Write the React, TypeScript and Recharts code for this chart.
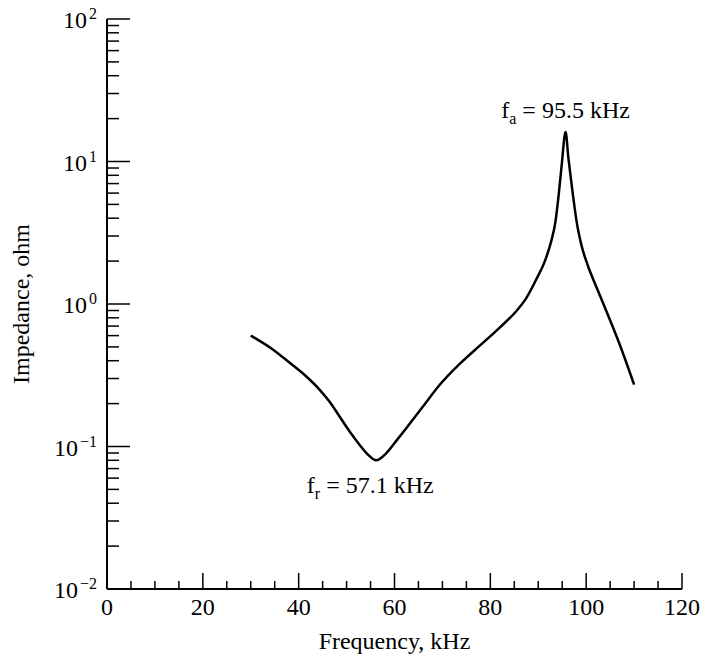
import React from 'react'
import { LineChart, Line, XAxis, YAxis, ReferenceDot } from 'recharts'

// impedance curve of the transducer (kHz, ohm)
const freqKHz = [
  30, 34.6, 38, 41.6, 44.4, 46.5, 48.5, 50.6, 52.7, 54.4, 56.2, 58.3, 60.4, 62.5,
  65.9, 69.4, 73.6, 77.8, 81.9, 85.4, 87.5, 89.6, 91.5, 92.7, 93.6, 94.3, 94.9, 95.7,
  96.3, 96.9, 97.4, 98, 99, 100.4, 102, 103.5, 107, 110,
]
const impedanceOhm = [
  0.6, 0.48, 0.39, 0.31, 0.25, 0.205, 0.163, 0.128, 0.103, 0.088, 0.08, 0.09, 0.11, 0.135,
  0.19, 0.27, 0.38, 0.51, 0.68, 0.89, 1.1, 1.49, 2.05, 2.75, 3.8, 6.0, 9.5, 16.1,
  10.5, 7.2, 5.3, 3.8, 2.6, 1.84, 1.35, 1.02, 0.52, 0.272,
]

const xTicks = [0, 5, 10, 15, 20, 25, 30, 35, 40, 45, 50, 55, 60, 65, 70, 75, 80, 85, 90, 95, 100, 105, 110, 115, 120]
const xMajorTicks = [0, 20, 40, 60, 80, 100, 120]
const xMajorLabels = ['0', '20', '40', '60', '80', '100', '120']

const yTicks = [
  0.01, 0.02, 0.03, 0.04, 0.05, 0.06, 0.07, 0.08, 0.09,
  0.1, 0.2, 0.3, 0.4, 0.5, 0.6, 0.7, 0.8, 0.9,
  1, 2, 3, 4, 5, 6, 7, 8, 9,
  10, 20, 30, 40, 50, 60, 70, 80, 90,
  100,
]
const yDecades = [0.01, 0.1, 1, 10, 100]
const yDecadeExponents = ['\u22122', '\u22121', '0', '1', '2']

// resonance (minimum) and anti-resonance (peak) annotations
const noteFreqs = [56.2, 95.7]
const noteValues = [0.08, 16.1]
const noteSubs = ['r', 'a']
const noteTexts = [' = 57.1 kHz', ' = 95.5 kHz']

const data = freqKHz.map((f, i) => ({ f, z: impedanceOhm[i] }))

const FONT = '"Liberation Serif", "Times New Roman", serif'

function FreqTick({ x, y, payload }: any) {
  const idx = xMajorTicks.indexOf(payload.value)
  const major = idx >= 0
  return (
    <g>
      <line x1={x} y1={y} x2={x} y2={y - (major ? 16 : 8)} stroke="#000" strokeWidth={1.5} />
      {major && (
        <text x={x} y={y + 26} textAnchor="middle" fontFamily={FONT} fontSize={24} fill="#000">
          {xMajorLabels[idx]}
        </text>
      )}
    </g>
  )
}

function ImpedanceTick({ x, y, payload }: any) {
  const idx = yDecades.indexOf(payload.value)
  const major = idx >= 0
  return (
    <g>
      <line x1={x} y1={y} x2={x + (major ? 23 : 12)} y2={y} stroke="#000" strokeWidth={1.5} />
      {major && (
        <text x={x - 10} y={y + 9} textAnchor="end" fontFamily={FONT} fontSize={24} fill="#000">
          10
          <tspan dy={-9} dx={2} fontSize={16}>
            {yDecadeExponents[idx]}
          </tspan>
        </text>
      )}
    </g>
  )
}

const noteLabel = (i: number, dx: number, dy: number) => (props: any) => {
  const { viewBox } = props
  const cx = viewBox.x + viewBox.width / 2 + dx
  const cy = viewBox.y + viewBox.height / 2 + dy
  return (
    <text x={cx} y={cy} textAnchor="middle" fontFamily={FONT} fontSize={24} fill="#000">
      f
      <tspan dy={6} fontSize={16}>
        {noteSubs[i]}
      </tspan>
      <tspan dy={-6}>{noteTexts[i]}</tspan>
    </text>
  )
}

export default function App() {
  return (
    <div style={{ width: 704, height: 659, background: '#fff' }}>
      <style>{'body{margin:0}'}</style>
      <LineChart width={704} height={659} data={data} margin={{ top: 19, right: 22, bottom: 0, left: 0 }}>
        <XAxis
          dataKey="f"
          type="number"
          domain={[0, 120]}
          ticks={xTicks}
          interval={0}
          tickSize={0}
          tickMargin={0}
          tickLine={false}
          tick={FreqTick}
          axisLine={{ stroke: '#000', strokeWidth: 2 }}
          height={70}
          label={{
            value: 'Frequency, kHz',
            position: 'insideBottom',
            offset: 10,
            style: { fontFamily: FONT, fontSize: 24, fill: '#000' },
          }}
        />
        <YAxis
          dataKey="z"
          type="number"
          scale="log"
          domain={[0.01, 100]}
          allowDataOverflow
          ticks={yTicks}
          interval={0}
          tickSize={0}
          tickMargin={0}
          tickLine={false}
          tick={ImpedanceTick}
          axisLine={{ stroke: '#000', strokeWidth: 2 }}
          width={107}
          label={{
            value: 'Impedance, ohm',
            angle: -90,
            position: 'insideLeft',
            offset: 20,
            style: { fontFamily: FONT, fontSize: 24, fill: '#000', textAnchor: 'middle' },
          }}
        />
        <Line
          type="monotone"
          dataKey="z"
          stroke="#000"
          strokeWidth={2.5}
          dot={false}
          activeDot={false}
          isAnimationActive={false}
        />
        <ReferenceDot
          x={noteFreqs[0]}
          y={noteValues[0]}
          r={0}
          fill="none"
          stroke="none"
          label={noteLabel(0, -6, 33)}
        />
        <ReferenceDot
          x={noteFreqs[1]}
          y={noteValues[1]}
          r={0}
          fill="none"
          stroke="none"
          label={noteLabel(1, 0, -14)}
        />
      </LineChart>
    </div>
  )
}
